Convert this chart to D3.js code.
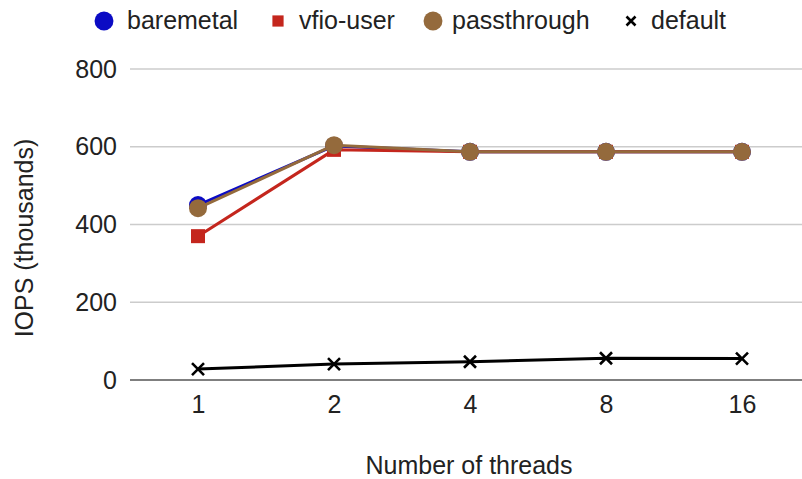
<!DOCTYPE html>
<html>
<head>
<meta charset="utf-8">
<script src="https://cdn.jsdelivr.net/npm/d3@7"></script>
<style>
  html, body { margin: 0; padding: 0; background: #fff; }
  svg { display: block; font-family: "Liberation Sans", Arial, Helvetica, sans-serif; }
</style>
</head>
<body>
<svg id="chart" width="802" height="479"></svg>
<script>
// Thread counts on the x axis
const threads = ["1", "2", "4", "8", "16"];
// IOPS in thousands per configuration
const baremetal   = [450, 602, 587, 587, 587];
const vfioUser    = [370, 592, 587, 587, 587];
const passthrough = [442, 604, 587, 587, 587];
const defaultCfg  = [28, 41, 47, 56, 55];
const yTicks = [0, 200, 400, 600, 800];

const series = [
  { name: "baremetal",   values: baremetal,   color: "#0b0bc4", marker: "circle" },
  { name: "vfio-user",   values: vfioUser,    color: "#c4261d", marker: "square" },
  { name: "passthrough", values: passthrough, color: "#946a3c", marker: "circle" },
  { name: "default",     values: defaultCfg,  color: "#000000", marker: "cross" }
];

const FONT = 25;
const svg = d3.select("#chart");
const plotLeft = 130, plotRight = 810, plotTop = 69, plotBottom = 380;

const x = d3.scalePoint().domain(threads).range([plotLeft, plotRight]).padding(0.5);
const y = d3.scaleLinear().domain([0, 800]).range([plotBottom, plotTop]);

// horizontal gridlines
svg.append("g")
  .selectAll("line")
  .data(yTicks.filter(d => d !== 0))
  .join("line")
  .attr("x1", plotLeft).attr("x2", plotRight)
  .attr("y1", d => y(d)).attr("y2", d => y(d))
  .attr("stroke", "#cccccc").attr("stroke-width", 1.3);

// y axis labels
const yAxis = svg.append("g")
  .attr("transform", `translate(${plotLeft},0)`)
  .call(d3.axisLeft(y).tickValues(yTicks).tickSize(0).tickPadding(13));
yAxis.select(".domain").remove();
yAxis.selectAll("text").attr("font-size", FONT).attr("fill", "#222").attr("font-family", "Liberation Sans, Arial, sans-serif");

// baseline
svg.append("line")
  .attr("x1", plotLeft).attr("x2", plotRight)
  .attr("y1", y(0)).attr("y2", y(0))
  .attr("stroke", "#555").attr("stroke-width", 1.5);

// x axis labels
const xAxis = svg.append("g")
  .attr("transform", `translate(0,${plotBottom})`)
  .call(d3.axisBottom(x).tickSize(0).tickPadding(15));
xAxis.select(".domain").remove();
xAxis.selectAll("text").attr("font-size", FONT).attr("fill", "#222").attr("font-family", "Liberation Sans, Arial, sans-serif");

// axis titles
svg.append("text")
  .attr("transform", `translate(33,238) rotate(-90)`)
  .attr("text-anchor", "middle")
  .attr("font-size", FONT).attr("fill", "#222")
  .text("IOPS (thousands)");

svg.append("text")
  .attr("x", 469).attr("y", 474)
  .attr("text-anchor", "middle")
  .attr("font-size", FONT).attr("fill", "#222")
  .text("Number of threads");

// marker drawing helper
function drawMarker(g, kind, color, cx, cy, scale) {
  const s = scale || 1;
  if (kind === "circle") {
    g.append("circle").attr("cx", cx).attr("cy", cy).attr("r", 9 * s).attr("fill", color);
  } else if (kind === "square") {
    const h = 7 * s;
    g.append("rect").attr("x", cx - h).attr("y", cy - h).attr("width", 2 * h).attr("height", 2 * h).attr("fill", color);
  } else {
    const h = 6 * s;
    g.append("path")
      .attr("d", `M${cx - h},${cy - h}L${cx + h},${cy + h}M${cx - h},${cy + h}L${cx + h},${cy - h}`)
      .attr("stroke", color).attr("stroke-width", 2.6).attr("fill", "none");
  }
}

const line = d3.line().x((d, i) => x(threads[i])).y(d => y(d));

series.forEach(s => {
  const g = svg.append("g");
  g.append("path")
    .datum(s.values)
    .attr("d", line)
    .attr("fill", "none")
    .attr("stroke", s.color)
    .attr("stroke-width", 3)
    .attr("stroke-linejoin", "round");
  s.values.forEach((v, i) => drawMarker(g, s.marker, s.color, x(threads[i]), y(v)));
});

// legend
const legendItems = [
  { s: series[0], mx: 104, tx: 127 },
  { s: series[1], mx: 278, tx: 299 },
  { s: series[2], mx: 433, tx: 452 },
  { s: series[3], mx: 631, tx: 651 }
];
const lg = svg.append("g");
legendItems.forEach(it => {
  const scale = it.s.marker === "square" ? 0.8 : (it.s.marker === "cross" ? 0.75 : 1.05);
  drawMarker(lg, it.s.marker, it.s.color, it.mx, 21, scale);
  lg.append("text")
    .attr("x", it.tx).attr("y", 29)
    .attr("font-size", FONT).attr("fill", "#222")
    .text(it.s.name);
});
</script>
</body>
</html>
